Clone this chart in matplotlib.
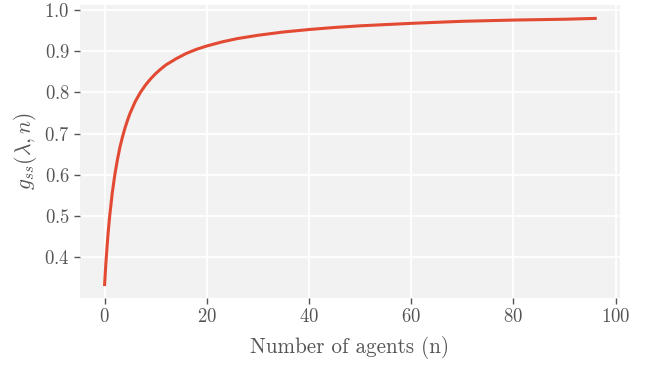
import numpy as np
import matplotlib
matplotlib.use('Agg')
import matplotlib.pyplot as plt

# steady-state g versus number of agents
n_agents = [0, 0.25, 0.5, 0.75, 1, 1.5, 2, 2.5, 3, 3.5, 4, 4.5, 5, 6, 7, 8, 9,
            10, 11, 12, 14, 16, 18, 20, 23, 26, 30, 35, 40, 45, 50, 60, 70,
            80, 90, 96]
g_ss = [0.333, 0.385, 0.429, 0.467, 0.500, 0.556, 0.600, 0.636, 0.667, 0.692,
        0.714, 0.733, 0.750, 0.778, 0.800, 0.818, 0.833, 0.846, 0.857, 0.867,
        0.882, 0.895, 0.905, 0.913, 0.923, 0.931, 0.939, 0.947, 0.953, 0.958,
        0.962, 0.968, 0.973, 0.976, 0.978, 0.980]

xticks = [0, 20, 40, 60, 80, 100]
yticks = [0.4, 0.5, 0.6, 0.7, 0.8, 0.9, 1.0]

plt.rcParams['font.family'] = 'serif'
plt.rcParams['font.serif'] = ['cmr10']
plt.rcParams['mathtext.fontset'] = 'cm'
plt.rcParams['axes.formatter.use_mathtext'] = True

fig = plt.figure(figsize=(6.51, 3.65), dpi=100)
ax = fig.add_axes([0.123, 0.184, 0.829, 0.802])
ax.set_facecolor('#f2f2f2')
for s in ax.spines.values():
    s.set_visible(False)
ax.grid(True, color='white', linewidth=1.3)
ax.set_axisbelow(True)

ax.plot(n_agents, g_ss, color='#E24A33', linewidth=2.2)

ax.set_xticks(xticks)
ax.set_yticks(yticks)
ax.tick_params(colors='#555555', labelsize=13.5, length=4, width=1)
ax.set_xlabel('Number of agents (n)', fontsize=15.2, color='#555555', labelpad=7)
ax.set_ylabel(r'$g_{ss}(\lambda, n)$', fontsize=15.5, color='#555555', labelpad=4)

fig.savefig('out.png', dpi=100)
